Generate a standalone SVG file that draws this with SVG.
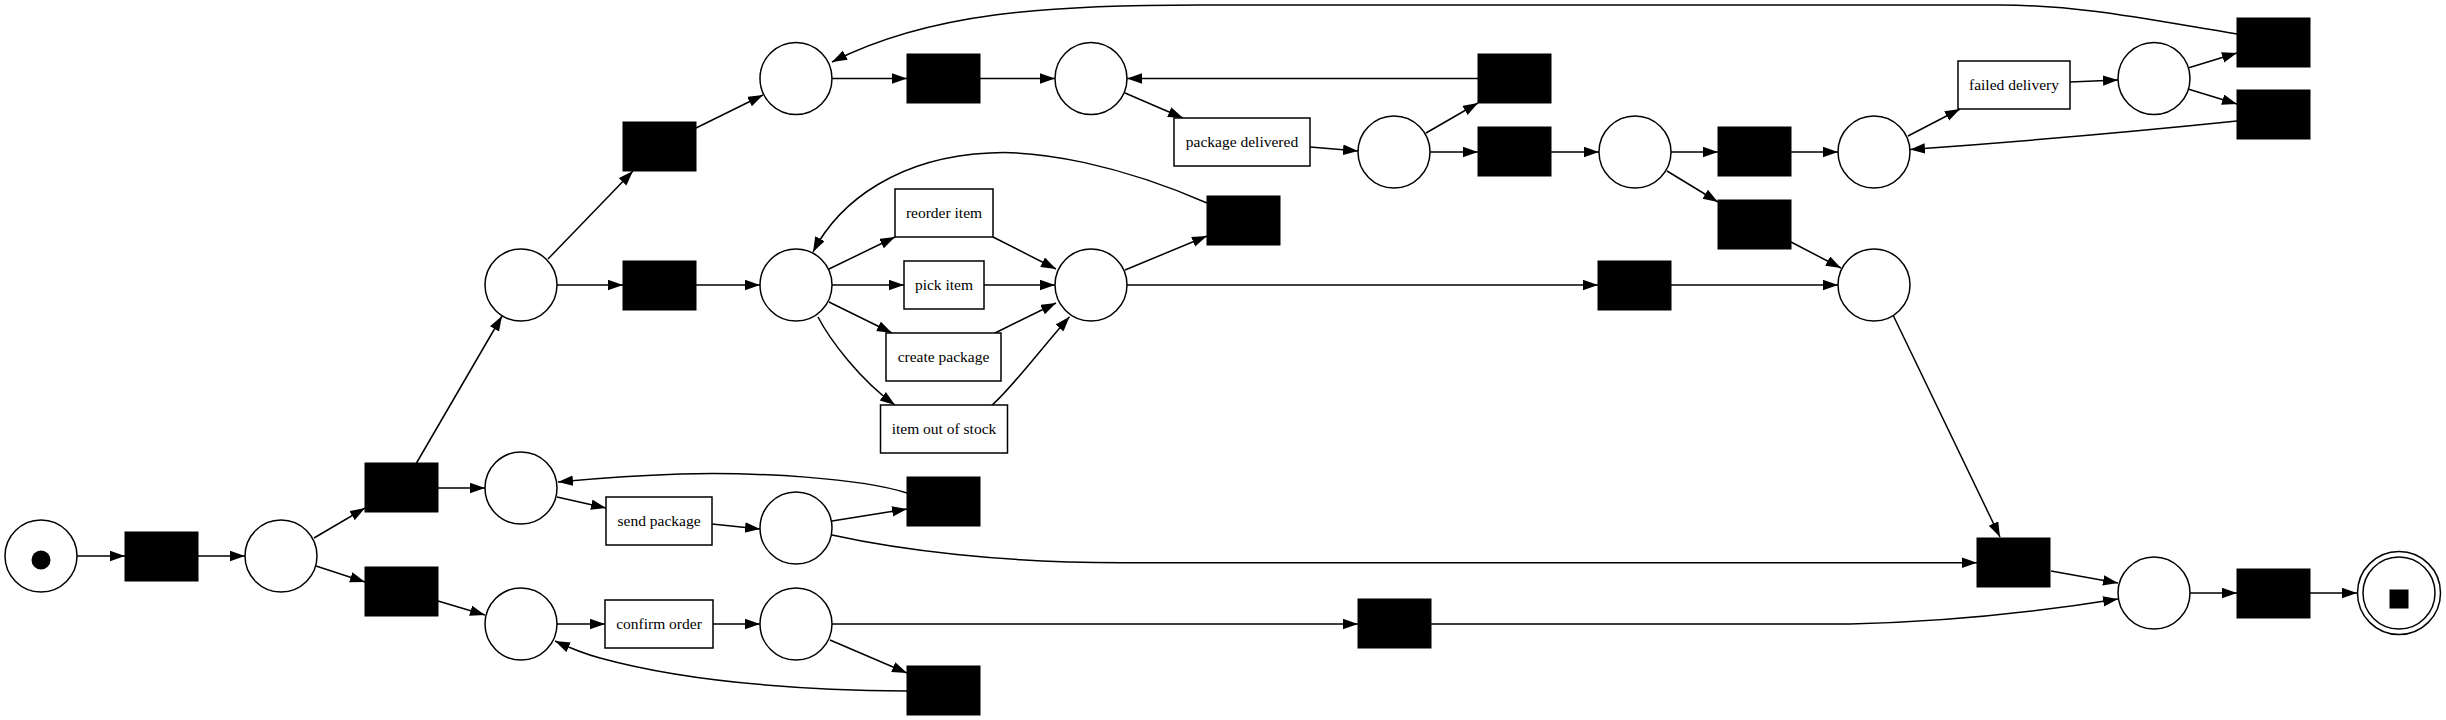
<svg xmlns="http://www.w3.org/2000/svg" width="2446" height="720" viewBox="0 0 2446 720">
<defs>
<marker id="arr" markerUnits="userSpaceOnUse" markerWidth="16" markerHeight="12" refX="15" refY="5.25" orient="auto">
<path d="M0,0 L15,5.25 L0,10.5 z" fill="#000"/>
</marker>
<style>
.pl{fill:#fff;stroke:#000;stroke-width:1.5}
.tb{fill:#000;stroke:#000;stroke-width:1}
.tl{fill:#fff;stroke:#000;stroke-width:1.5}
.lb{font-family:"Liberation Serif","Times New Roman",serif;font-size:15.5px;text-anchor:middle;fill:#000}
#edges path{fill:none;stroke:#000;stroke-width:1.5;marker-end:url(#arr)}
</style>
</defs>
<rect x="0" y="0" width="2446" height="720" fill="#fff"/>

<g id="edges">
<path d="M77,556 L125,556"/>
<path d="M198,556 L245,556"/>
<path d="M314,538 L365,508"/>
<path d="M316,566 L365,582"/>
<path d="M416.5,463 L502,316"/>
<path d="M438,488 L485,488"/>
<path d="M438,601 L485,615"/>
<path d="M557,497 L606,508"/>
<path d="M712,524 L760,529"/>
<path d="M832,521 L907,509"/>
<path d="M907,493 C860,478 760,472 680,474 C620,476 580,480 558,482"/>
<path d="M832,535 C900,550 1000,562.7 1122,562.7 L1977,562.7"/>
<path d="M557,624 L605,624"/>
<path d="M713,624 L760,624"/>
<path d="M830,640 L907,673"/>
<path d="M907,691 C780,690 680,680 600,658 C585,654 570,648 555,641"/>
<path d="M832,624 L1358,624"/>
<path d="M1431,624 L1850,624 C1950,622 2050,610 2118,599"/>
<path d="M548,259 L633,171"/>
<path d="M557,285 L623,285"/>
<path d="M696,128 L763,95"/>
<path d="M696,285 L760,285"/>
<path d="M832,78.5 L907,78.5"/>
<path d="M980,78.5 L1055,78.5"/>
<path d="M1125,93 L1183,118"/>
<path d="M1310,147 L1358,151"/>
<path d="M1426,133 L1478,103"/>
<path d="M1430,152 L1478,152"/>
<path d="M1478,78.5 L1127,78.5"/>
<path d="M1551,152 L1599,152"/>
<path d="M1671,152 L1718,152"/>
<path d="M1667,171 L1718,202"/>
<path d="M1791,152 L1838,152"/>
<path d="M1791,242 L1841,268"/>
<path d="M1908,136 L1960,109"/>
<path d="M2070,82 L2118,80"/>
<path d="M2188,68 L2237,53"/>
<path d="M2188,89 L2237,104"/>
<path d="M2237,34 C2150,20 2080,5 2000,5 L1200,5 C1050,5 930,12 832,62"/>
<path d="M2237,121 C2150,130 2000,143 1910,149.5"/>
<path d="M829,269 L895,237"/>
<path d="M832,285 L904,285"/>
<path d="M829,302 L892,333"/>
<path d="M818,317 C830,340 860,380 895,405"/>
<path d="M993,237 L1056,269"/>
<path d="M984,285 L1055,285"/>
<path d="M995,333 L1056,303"/>
<path d="M992,405 C1010,390 1040,350 1069.5,316.7"/>
<path d="M1125,270 L1207,236"/>
<path d="M1207,203 C1120,165 1040,150 990,153 C900,157 840,200 813,252"/>
<path d="M1127,285 L1598,285"/>
<path d="M1671,285 L1838,285"/>
<path d="M1893,315 L2000,537"/>
<path d="M2051,571 L2118,583"/>
<path d="M2190,593 L2237,593"/>
<path d="M2310,593 L2357,593"/>
</g>

<g id="p_start"><circle class="pl" cx="41" cy="556" r="36"/><circle cx="41" cy="560" r="9.5" fill="#000"/></g>
<g id="t1"><rect class="tb" x="125" y="532" width="73" height="49"/></g>
<g id="p1"><circle class="pl" cx="281" cy="556" r="36"/></g>
<g id="t2"><rect class="tb" x="365" y="463" width="73" height="49"/></g>
<g id="t3"><rect class="tb" x="365" y="567" width="73" height="49"/></g>
<g id="p2"><circle class="pl" cx="521" cy="488" r="36"/></g>
<g id="p3"><circle class="pl" cx="521" cy="624" r="36"/></g>
<g id="p4"><circle class="pl" cx="521" cy="285" r="36"/></g>
<g id="t4"><rect class="tb" x="623" y="122" width="73" height="49"/></g>
<g id="t5"><rect class="tb" x="623" y="261" width="73" height="49"/></g>
<g id="p5"><circle class="pl" cx="796" cy="78.5" r="36"/></g>
<g id="t6"><rect class="tb" x="907" y="54" width="73" height="49"/></g>
<g id="p6"><circle class="pl" cx="1091" cy="78.5" r="36"/></g>
<g id="p7"><circle class="pl" cx="796" cy="285" r="36"/></g>
<g id="reorder_item"><rect class="tl" x="895" y="189" width="98" height="48"/><text class="lb" x="944" y="218">reorder item</text></g>
<g id="pick_item"><rect class="tl" x="904" y="261" width="80" height="48"/><text class="lb" x="944" y="290">pick item</text></g>
<g id="create_package"><rect class="tl" x="886" y="333" width="115" height="48"/><text class="lb" x="943.5" y="362">create package</text></g>
<g id="item_out_of_stock"><rect class="tl" x="880.5" y="405" width="127" height="48"/><text class="lb" x="944" y="434">item out of stock</text></g>
<g id="p8"><circle class="pl" cx="1091" cy="285" r="36"/></g>
<g id="t7"><rect class="tb" x="1207" y="196" width="73" height="49"/></g>
<g id="package_delivered"><rect class="tl" x="1174" y="118" width="136" height="48"/><text class="lb" x="1242" y="147">package delivered</text></g>
<g id="p9"><circle class="pl" cx="1394" cy="152" r="36"/></g>
<g id="t8"><rect class="tb" x="1478" y="54" width="73" height="49"/></g>
<g id="t9"><rect class="tb" x="1478" y="127" width="73" height="49"/></g>
<g id="p10"><circle class="pl" cx="1635" cy="152" r="36"/></g>
<g id="t10"><rect class="tb" x="1598" y="261" width="73" height="49"/></g>
<g id="t11"><rect class="tb" x="1718" y="127" width="73" height="49"/></g>
<g id="t12"><rect class="tb" x="1718" y="200" width="73" height="49"/></g>
<g id="p11"><circle class="pl" cx="1874" cy="152" r="36"/></g>
<g id="p12"><circle class="pl" cx="1874" cy="285" r="36"/></g>
<g id="failed_delivery"><rect class="tl" x="1958" y="61" width="112" height="48"/><text class="lb" x="2014" y="90">failed delivery</text></g>
<g id="p13"><circle class="pl" cx="2154" cy="78.5" r="36"/></g>
<g id="t13"><rect class="tb" x="2237" y="18" width="73" height="49"/></g>
<g id="t14"><rect class="tb" x="2237" y="90" width="73" height="49"/></g>
<g id="send_package"><rect class="tl" x="606" y="497" width="106" height="48"/><text class="lb" x="659" y="526">send package</text></g>
<g id="confirm_order"><rect class="tl" x="605" y="600" width="108" height="48"/><text class="lb" x="659" y="629">confirm order</text></g>
<g id="p14"><circle class="pl" cx="796" cy="528" r="36"/></g>
<g id="p15"><circle class="pl" cx="796" cy="624" r="36"/></g>
<g id="t15"><rect class="tb" x="907" y="477" width="73" height="49"/></g>
<g id="t17"><rect class="tb" x="907" y="666" width="73" height="49"/></g>
<g id="t18"><rect class="tb" x="1358" y="599" width="73" height="49"/></g>
<g id="t16"><rect class="tb" x="1977" y="538" width="73" height="49"/></g>
<g id="p16"><circle class="pl" cx="2154" cy="593" r="36"/></g>
<g id="t19"><rect class="tb" x="2237" y="569" width="73" height="49"/></g>
<g id="p_end"><circle class="pl" cx="2399" cy="593" r="41.5"/><circle class="pl" cx="2399" cy="593" r="36"/><rect x="2389.5" y="589.5" width="19" height="19" fill="#000"/></g>
</svg>
